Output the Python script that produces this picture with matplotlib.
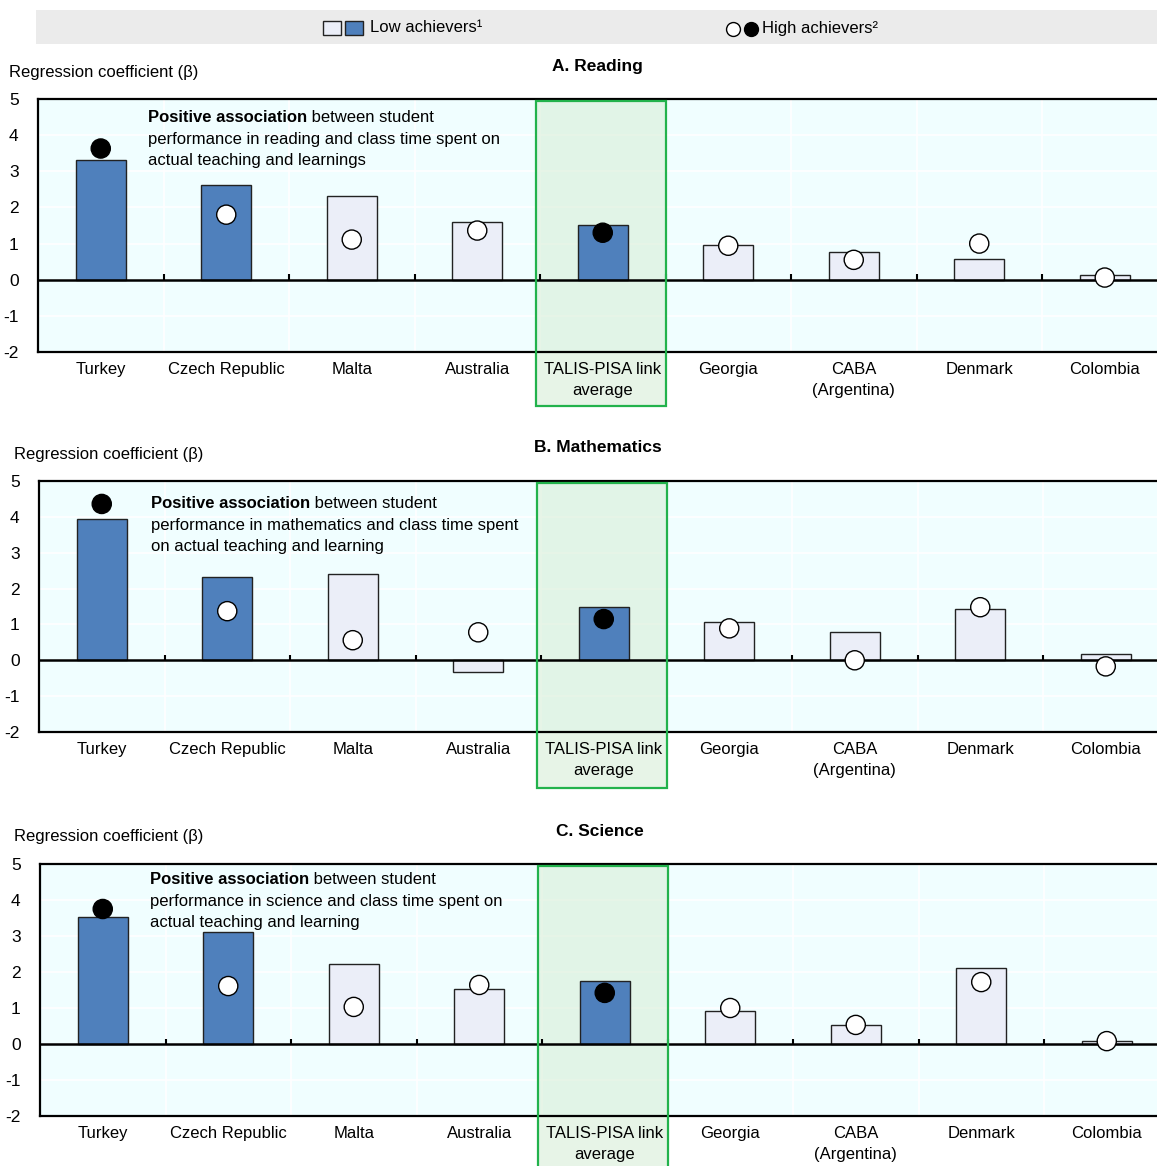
import matplotlib
matplotlib.use("Agg")
import matplotlib.pyplot as plt
import matplotlib.transforms as mtransforms
from matplotlib.patches import Rectangle

plt.rcParams["font.family"] = ["Liberation Sans", "DejaVu Sans"]

W, H = 1157, 1166

categories = ["Turkey", "Czech Republic", "Malta", "Australia", "TALIS-PISA link\naverage",
              "Georgia", "CABA\n(Argentina)", "Denmark", "Colombia"]

# low achievers (bars) and high achievers (dots), regression coefficients
reading_low = [3.32, 2.63, 2.33, 1.61, 1.52, 0.97, 0.78, 0.58, 0.14]
reading_high = [3.63, 1.80, 1.11, 1.36, 1.30, 0.94, 0.55, 1.00, 0.06]
math_low = [3.94, 2.32, 2.40, -0.32, 1.48, 1.06, 0.78, 1.42, 0.17]
math_high = [4.36, 1.37, 0.56, 0.78, 1.15, 0.89, 0.00, 1.48, -0.17]
science_low = [3.53, 3.11, 2.22, 1.53, 1.75, 0.92, 0.53, 2.11, 0.08]
science_high = [3.75, 1.61, 1.03, 1.64, 1.42, 1.00, 0.53, 1.72, 0.08]

# statistically significant (filled) markers
reading_low_sig = [1, 1, 0, 0, 1, 0, 0, 0, 0]
reading_high_sig = [1, 0, 0, 0, 1, 0, 0, 0, 0]
math_low_sig = [1, 1, 0, 0, 1, 0, 0, 0, 0]
math_high_sig = [1, 0, 0, 0, 1, 0, 0, 0, 0]
science_low_sig = [1, 1, 0, 0, 1, 0, 0, 0, 0]
science_high_sig = [1, 0, 0, 0, 1, 0, 0, 0, 0]

BLUE = "#4F80BC"
LIGHT = "#EBEEF8"
BG = "#F0FEFF"
GREEN = "#22B24C"
FS = 12

panels = [
    dict(title="A. Reading", low=reading_low, high=reading_high,
         lsig=reading_low_sig, hsig=reading_high_sig,
         mid="performance in reading and class time spent on\nactual teaching and learnings",
         left=38, top=99, bottom=352,
         box_bottom=406, title_xy=(597, 67), ylab_xy=(9, 73), note_xy=(148, 117)),
    dict(title="B. Mathematics", low=math_low, high=math_high,
         lsig=math_low_sig, hsig=math_high_sig,
         mid="performance in mathematics and class time spent\non actual teaching and learning",
         left=39, top=481, bottom=732,
         box_bottom=788, title_xy=(598, 448), ylab_xy=(14, 454), note_xy=(151, 503)),
    dict(title="C. Science", low=science_low, high=science_high,
         lsig=science_low_sig, hsig=science_high_sig,
         mid="performance in science and class time spent on\nactual teaching and learning",
         left=40, top=864, bottom=1116,
         box_bottom=1175, title_xy=(600, 832), ylab_xy=(14, 837), note_xy=(150, 879)),
]

fig = plt.figure(figsize=(W / 100, H / 100), dpi=100)

# legend band
fig.patches.append(Rectangle((36 / W, 1 - 44 / H), (W - 36) / W, 34 / H,
                             transform=fig.transFigure, facecolor="#EBEBEB", edgecolor="none"))
for x0, fc in [(323, LIGHT), (345, BLUE)]:
    fig.patches.append(Rectangle((x0 / W, 1 - 35 / H), 18 / W, 14 / H, transform=fig.transFigure,
                                 facecolor=fc, edgecolor="#222222", lw=1))
fig.text(370 / W, 1 - 28 / H, "Low achievers¹", fontsize=FS, va="center", ha="left")
fig.lines.append(plt.Line2D([733 / W], [1 - 29 / H], marker="o", ms=10, mfc="white", mec="black",
                            mew=1, transform=fig.transFigure))
fig.lines.append(plt.Line2D([751 / W], [1 - 29 / H], marker="o", ms=10, mfc="black", mec="black",
                            mew=1, transform=fig.transFigure))
fig.text(762 / W, 1 - 28 / H, "High achievers²", fontsize=FS, va="center", ha="left")

n = len(categories)
xs = list(range(n))
slot = 125.5

for p in panels:
    ah = p["bottom"] - p["top"]
    ax = fig.add_axes([p["left"] / W, 1 - p["bottom"] / H, slot * n / W, ah / H])
    ax.set_facecolor(BG)
    ax.set_xlim(-0.5, n - 0.5)
    ax.set_ylim(-2, 5)
    ax.set_axisbelow(True)
    ax.set_yticks(range(-2, 6))
    ax.set_yticklabels([str(v) for v in range(-2, 6)], fontsize=FS + 0.5)
    ax.tick_params(axis="y", length=0, pad=14)
    ax.set_xticks([])
    ax.yaxis.grid(True, color="white", lw=1.2)
    for b in [i + 0.5 for i in range(n - 1)]:
        ax.axvline(b, color="white", lw=1.2, zorder=0.6)
    for s in ["left", "top", "bottom"]:
        ax.spines[s].set_linewidth(1.6)
        ax.spines[s].set_color("black")
    ax.spines["right"].set_visible(False)

    trans = mtransforms.blended_transform_factory(ax.transData, ax.transAxes)
    ytop = (p["bottom"] - (p["top"] + 2)) / ah
    ybot = (p["bottom"] - p["box_bottom"]) / ah
    ax.add_patch(Rectangle((3.47, ybot), 1.03, ytop - ybot, transform=trans, facecolor="#D8EED8",
                           alpha=0.6, edgecolor="none", clip_on=False, zorder=1))
    ax.add_patch(Rectangle((3.47, ybot), 1.03, ytop - ybot, transform=trans, facecolor="none",
                           edgecolor=GREEN, lw=1.6, clip_on=False, zorder=6))

    colors = [BLUE if s else LIGHT for s in p["lsig"]]
    ax.bar(xs, p["low"], width=0.4, color=colors, edgecolor="#222222", lw=1, zorder=2)
    ax.axhline(0, color="black", lw=1.8, zorder=3)
    ax.vlines([i + 0.5 for i in range(n - 1)], 0, 0.15, color="black", lw=1.5, zorder=3)
    fcs = ["black" if s else "white" for s in p["hsig"]]
    ax.scatter(xs, p["high"], s=190, facecolors=fcs, edgecolors="black", linewidths=1, zorder=4)

    for i, lab in enumerate(categories):
        ax.text(i, -0.04, lab, transform=trans, ha="center", va="top", fontsize=FS,
                linespacing=1.5, zorder=7)

    fig.text(p["title_xy"][0] / W, 1 - p["title_xy"][1] / H, p["title"], fontsize=12.5,
             fontweight="bold", ha="center", va="center")
    fig.text(p["ylab_xy"][0] / W, 1 - p["ylab_xy"][1] / H, "Regression coefficient (β)",
             fontsize=FS, ha="left", va="center")

    nx, ny = p["note_xy"]
    t1 = fig.text(nx / W, 1 - ny / H, "Positive association", fontsize=FS, fontweight="bold",
                  ha="left", va="center", zorder=8)
    ax.annotate(" between student", xy=(1, 0), xycoords=t1, ha="left", va="bottom",
                fontsize=FS, zorder=8, annotation_clip=False)
    fig.text(nx / W, 1 - (ny + 15) / H, p["mid"], fontsize=FS, ha="left", va="top",
             linespacing=1.5, zorder=8)

fig.savefig("out.png", dpi=100)
